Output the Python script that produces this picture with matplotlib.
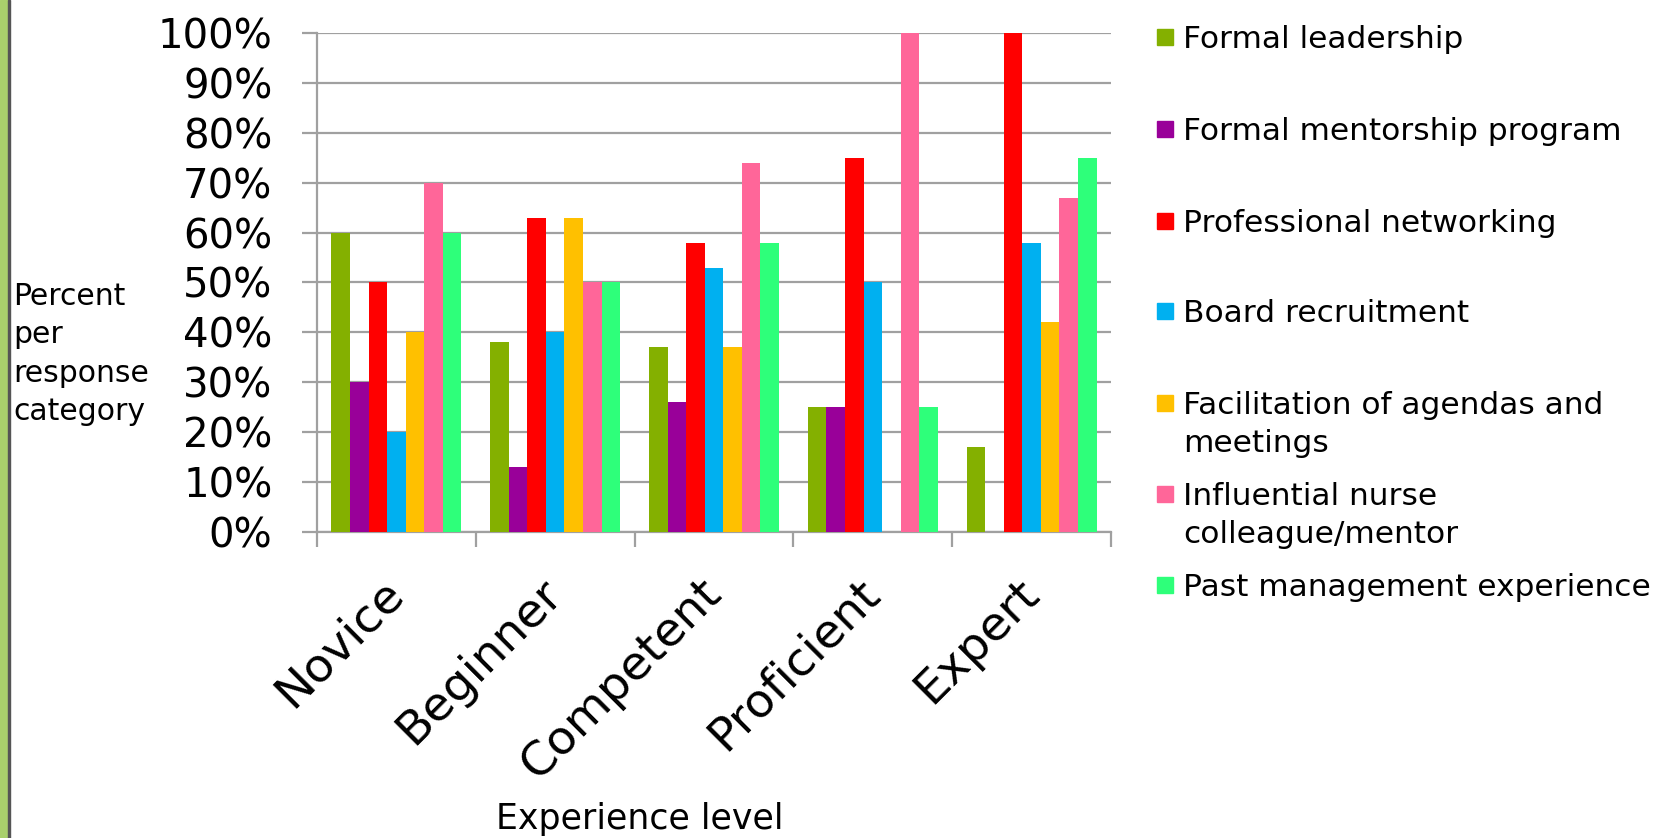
import matplotlib
matplotlib.use("Agg")
import matplotlib.pyplot as plt
import numpy as np
from matplotlib.patches import Rectangle

plt.rcParams['font.family'] = ['DejaVu Sans']

# data
levels = ['Novice', 'Beginner', 'Competent', 'Proficient', 'Expert']
series = ['Formal leadership', 'Formal mentorship program', 'Professional networking',
          'Board recruitment', 'Facilitation of agendas and\nmeetings',
          'Influential nurse\ncolleague/mentor', 'Past management experience']
formal_leadership = [60, 38, 37, 25, 17]
formal_mentorship = [30, 13, 26, 25, 0]
prof_networking = [50, 63, 58, 75, 100]
board_recruitment = [20, 40, 53, 50, 58]
facilitation = [40, 63, 37, 0, 42]
influential_nurse = [70, 50, 74, 100, 67]
past_management = [60, 50, 58, 25, 75]
values = [formal_leadership, formal_mentorship, prof_networking, board_recruitment,
          facilitation, influential_nurse, past_management]
colors = ['#84b000', '#990099', '#ff0000', '#00b0f0', '#ffc000', '#ff6699', '#2eff7a']

W, H = 1672, 838
fig = plt.figure(figsize=(W / 100, H / 100), dpi=100)
ax = fig.add_axes([317 / W, 1 - 532 / H, (1111 - 317) / W, (532 - 33) / H])

x = np.arange(len(levels))
bw = 0.117
for i, (vals, c) in enumerate(zip(values, colors)):
    ax.bar(x + (i - 3) * bw, vals, bw, color=c, zorder=3)

grid_c = '#a0a0a0'
ax.set_xlim(-0.5, 4.5)
ax.set_ylim(0, 100)
ax.set_yticks(range(0, 101, 10))
ax.set_yticklabels([f'{v}%' for v in range(0, 101, 10)])
ax.yaxis.grid(True, color=grid_c, lw=1.6, zorder=0)
ax.tick_params(axis='y', length=11, width=1.6, color=grid_c, labelsize=29, pad=21)
ax.set_xticks(x)
ax.set_xticklabels(levels, rotation=45, ha='right', va='center', rotation_mode='anchor')
ax.tick_params(axis='x', length=0, labelsize=34, pad=39)
ax.set_xticks(np.arange(-0.5, 5, 1), minor=True)
ax.tick_params(axis='x', which='minor', length=11, width=1.6, color=grid_c)
for s in ['top', 'right']:
    ax.spines[s].set_visible(False)
for s in ['left', 'bottom']:
    ax.spines[s].set_color(grid_c)
    ax.spines[s].set_linewidth(1.6)

# axis titles
fig.text(13 / W, 1 - 354 / H, 'Percent\nper\nresponse\ncategory', fontsize=21.5,
         ha='left', va='center', linespacing=1.4)
fig.text(640 / W, 1 - 819 / H, 'Experience level', fontsize=25, ha='center', va='center')

# legend, placed like the original (one text per line)
leg_y = [37, 129, 221, 311, 403, 494, 585]
for lab, c, yy in zip(series, colors, leg_y):
    fig.patches.append(Rectangle((1157 / W, 1 - (yy + 8) / H), 16 / W, 16 / H,
                                 transform=fig.transFigure, color=c))
    for k, line in enumerate(lab.split('\n')):
        fig.text(1183 / W, 1 - (yy + 11 + 38 * k) / H, line, fontsize=22.5,
                 ha='left', va='baseline')

# green side strip of the slide
fig.patches.append(Rectangle((0, 0), 8 / W, 1, transform=fig.transFigure, color='#a9d06c'))
fig.patches.append(Rectangle((8 / W, 0), 2 / W, 1, transform=fig.transFigure, color='#555555'))

fig.savefig('out.png', dpi=100)
